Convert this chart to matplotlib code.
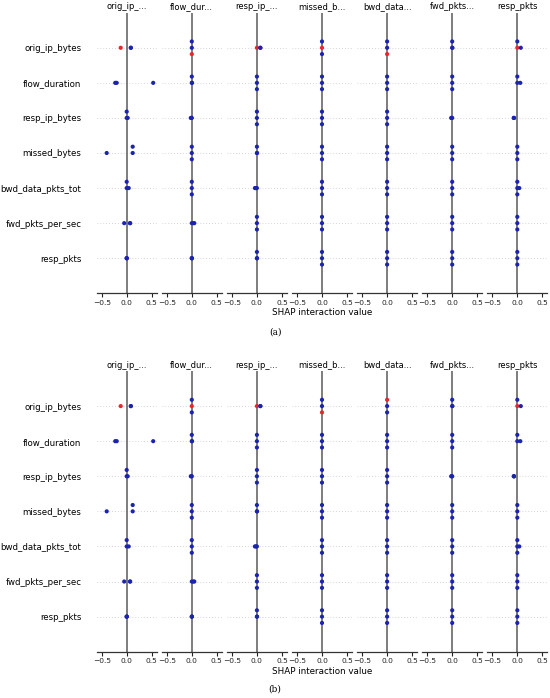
import numpy as np
import matplotlib
matplotlib.use("Agg")
import matplotlib.pyplot as plt

# ---------------- data ----------------
features = ["orig_ip_bytes", "flow_duration", "resp_ip_bytes", "missed_bytes",
            "bwd_data_pkts_tot", "fwd_pkts_per_sec", "resp_pkts"]
col_titles = ["orig_ip_...", "flow_dur...", "resp_ip_...", "missed_b...",
              "bwd_data...", "fwd_pkts...", "resp_pkts"]
x_ticks = [-0.5, 0.0, 0.5]
x_label = "SHAP interaction value"
captions = ["(a)", "(b)"]

# SHAP interaction values: one list per row feature (top -> bottom), per column
col_orig_ip = [[-0.12, 0.08, 0.085], [-0.23, -0.20, 0.53], [0.0, 0.0, 0.02],
               [-0.40, 0.12, 0.12], [0.0, 0.0, 0.04], [-0.05, 0.07, 0.065],
               [0.0, 0.001, 0.002]]
col_flow_dur = [[0.0, 0.0, 0.0], [0.0, 0.0, 0.005], [-0.02, -0.01, 0.0],
                [0.0, 0.0, 0.0], [0.0, 0.0, 0.0], [0.0, 0.03, 0.05],
                [0.0, 0.001, 0.002]]
col_resp_ip = [[0.0, 0.07, 0.068], [0.0, 0.0, 0.0], [0.0, 0.0, 0.0],
               [0.0, 0.0, 0.003], [-0.04, -0.02, 0.0], [0.0, 0.0, 0.0],
               [0.0, 0.0, 0.003]]
col_missed = [[0.0, 0.0, 0.0], [0.0, 0.0, 0.0], [0.0, 0.0, 0.0],
              [0.0, 0.0, 0.0], [0.0, 0.0, 0.0], [0.0, 0.0, 0.0],
              [0.0, 0.0, 0.0]]
col_bwd_data = [[0.0, 0.0, 0.0], [0.0, 0.0, 0.0], [0.0, 0.0, 0.0],
                [0.0, 0.0, 0.0], [0.0, 0.0, 0.0], [0.0, 0.0, 0.0],
                [0.0, 0.0, 0.0]]
col_fwd_pkts = [[0.0, 0.0, 0.003], [0.0, 0.0, 0.0], [-0.02, -0.01, 0.0],
                [0.0, 0.0, 0.0], [0.0, 0.0, 0.0], [0.0, 0.0, 0.0],
                [0.0, 0.0, 0.0]]
col_resp_pkts = [[0.0, 0.0, 0.07], [0.0, 0.0, 0.06], [-0.07, -0.068, -0.066],
                 [0.0, 0.0, 0.0], [0.0, 0.0, 0.0, 0.04], [0.0, 0.0, 0.0],
                 [0.0, 0.0, 0.0]]

# feature value of the orig_ip_bytes row points (1 = high / red), per column
orig_hi_a = [[1, 0, 0], [0, 0, 1], [1, 0, 0], [1, 0, 0], [0, 0, 1], [0, 0, 0], [1, 0, 0]]
orig_hi_b = [[1, 0, 0], [1, 0, 0], [1, 0, 0], [0, 0, 1], [0, 1, 0], [0, 0, 0], [1, 0, 0]]

columns = [col_orig_ip, col_flow_dur, col_resp_ip, col_missed,
           col_bwd_data, col_fwd_pkts, col_resp_pkts]
panels_hi = [orig_hi_a, orig_hi_b]

BLUE = "#1c24ad"
RED = "#e5282c"


def beeswarm_offsets(shaps, row_height=0.4, nbins=100):
    shaps = np.asarray(shaps, float)
    n = len(shaps)
    quant = np.round(nbins * (shaps - shaps.min()) / (shaps.max() - shaps.min() + 1e-8))
    order = np.argsort(quant, kind="stable")
    ys = np.zeros(n)
    layer = 0
    last = -1
    for i in order:
        if quant[i] != last:
            layer = 0
        ys[i] = np.ceil(layer / 2) * ((layer % 2) * 2 - 1)
        layer += 1
        last = quant[i]
    ys *= 0.9 * (row_height / np.max(ys + 1))
    return ys


W, H = 550, 698
fig = plt.figure(figsize=(W / 100, H / 100), dpi=100)

ax_left0 = 96.7
ax_w = 60.0
ax_step = 65.1
panel_top = [12.7, 371.0]
panel_bot = [293.3, 651.7]
caption_y = [332.0, 689.0]

nrows = len(features)
for p in range(2):
    for j, col in enumerate(columns):
        left = ax_left0 + j * ax_step
        ax = fig.add_axes([left / W, 1 - panel_bot[p] / H, ax_w / W,
                           (panel_bot[p] - panel_top[p]) / H])
        ax.axvline(0, color="#5a5a5a", lw=1.1, zorder=1)
        for r in range(nrows):
            pos = nrows - 1 - r
            ax.axhline(pos, color="#c8c8d0", lw=0.6, dashes=(1, 2.5), zorder=0)
            vals = np.asarray(col[r], float)
            ys = beeswarm_offsets(vals)
            if r == 0:
                cols = [RED if h else BLUE for h in panels_hi[p][j]]
            else:
                cols = [BLUE] * len(vals)
            ax.scatter(vals, pos + ys, s=9, c=cols, linewidths=0, zorder=3)
        ax.set_xlim(-0.6, 0.6)
        ax.set_ylim(-1, nrows)
        ax.set_xticks(x_ticks)
        ax.tick_params(axis="x", labelsize=5.4, length=3, width=0.8, pad=1.5,
                       colors="#222222")
        for s in ["top", "right", "left"]:
            ax.spines[s].set_visible(False)
        ax.spines["bottom"].set_color("#333333")
        ax.spines["bottom"].set_linewidth(0.9)
        if j == 0:
            ax.set_yticks(range(nrows - 1, -1, -1))
            ax.set_yticklabels(features, fontsize=6.2)
            ax.tick_params(axis="y", length=0, pad=11)
        else:
            ax.set_yticks([])
        ax.set_title(col_titles[j], fontsize=6.0, pad=2.5)
        if j == 3:
            ax.set_xlabel(x_label, fontsize=6.3, labelpad=2)
    fig.text(275 / W, 1 - caption_y[p] / H, captions[p], ha="center", va="center",
             fontsize=6.5, family="DejaVu Serif")

fig.savefig("out.png", dpi=100)
